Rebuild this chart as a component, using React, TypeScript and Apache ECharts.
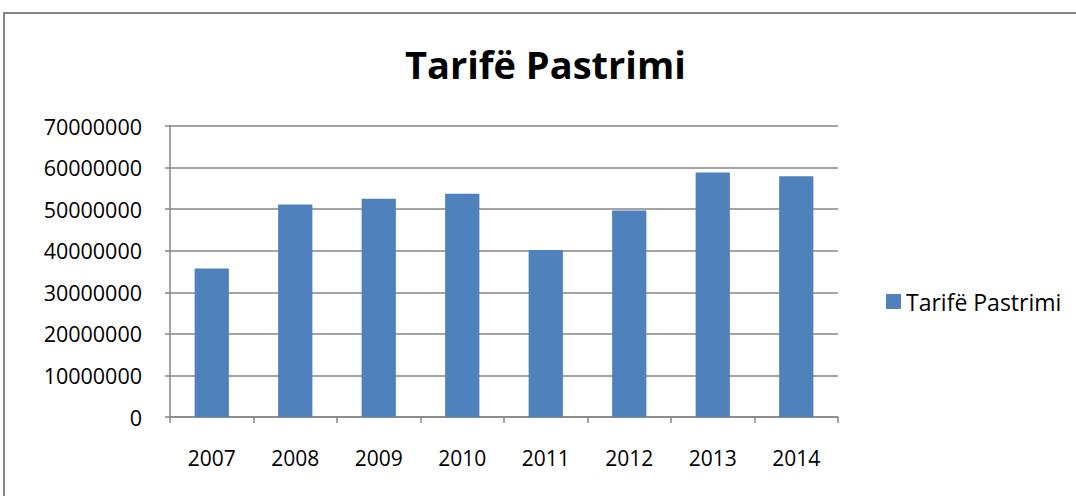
import React, { useEffect, useRef } from "react";
import * as echarts from "echarts";

const categories = ["2007", "2008", "2009", "2010", "2011", "2012", "2013", "2014"];
const values = [35700000, 51100000, 52500000, 53700000, 40200000, 49700000, 58800000, 57900000];
const seriesName = "Tarifë Pastrimi";
const titleText = "Tarifë Pastrimi";

export default function App() {
  const ref = useRef<HTMLDivElement>(null);
  useEffect(() => {
    if (!ref.current) return;
    document.body.style.margin = "0";
    document.body.style.overflow = "hidden";
    const chart = echarts.init(ref.current, null, { renderer: "svg" });
    const font = "'Open Sans', sans-serif";
    chart.setOption({
      animation: false,
      backgroundColor: "#ffffff",
      textStyle: { fontFamily: font },
      title: {
        text: titleText,
        left: 400,
        top: 40,
        textStyle: { fontFamily: font, fontSize: 38, fontWeight: "bold", color: "#000" },
      },
      legend: {
        data: [seriesName],
        left: 881,
        top: 285,
        icon: "rect",
        itemWidth: 15,
        itemHeight: 15,
        itemGap: 6,
        textStyle: { fontFamily: font, fontSize: 23, color: "#000" },
      },
      grid: { left: 170, right: 238, top: 126, bottom: 79 },
      xAxis: {
        type: "category",
        data: categories,
        axisLine: { lineStyle: { color: "#868686", width: 1.5 } },
        axisTick: { show: true, length: 6, lineStyle: { color: "#868686", width: 1.5 } },
        axisLabel: { fontFamily: font, fontSize: 21, color: "#000", margin: 30 },
      },
      yAxis: {
        type: "value",
        min: 0,
        max: 70000000,
        interval: 10000000,
        axisLine: { show: true, lineStyle: { color: "#868686", width: 1.5 } },
        axisTick: { show: true, length: 5, lineStyle: { color: "#868686", width: 1.5 } },
        splitLine: { lineStyle: { color: "#868686", width: 1.5 } },
        axisLabel: {
          fontFamily: font,
          fontSize: 21.5,
          color: "#000",
          margin: 28,
          formatter: (v: number) => String(v),
        },
      },
      series: [
        {
          name: seriesName,
          type: "bar",
          data: values,
          barWidth: "41%",
          itemStyle: { color: "#4F81BD" },
        },
      ],
      graphic: [
        {
          type: "line",
          shape: { x1: 4, y1: 13, x2: 1100, y2: 13 },
          style: { stroke: "#868686", lineWidth: 2 },
          silent: true,
        },
        {
          type: "line",
          shape: { x1: 4, y1: 12, x2: 4, y2: 520 },
          style: { stroke: "#868686", lineWidth: 2 },
          silent: true,
        },
      ],
    });
    return () => chart.dispose();
  }, []);
  return (
    <div
      ref={ref}
      style={{ position: "absolute", left: 0, top: 0, width: 1076, height: 496 }}
    />
  );
}
